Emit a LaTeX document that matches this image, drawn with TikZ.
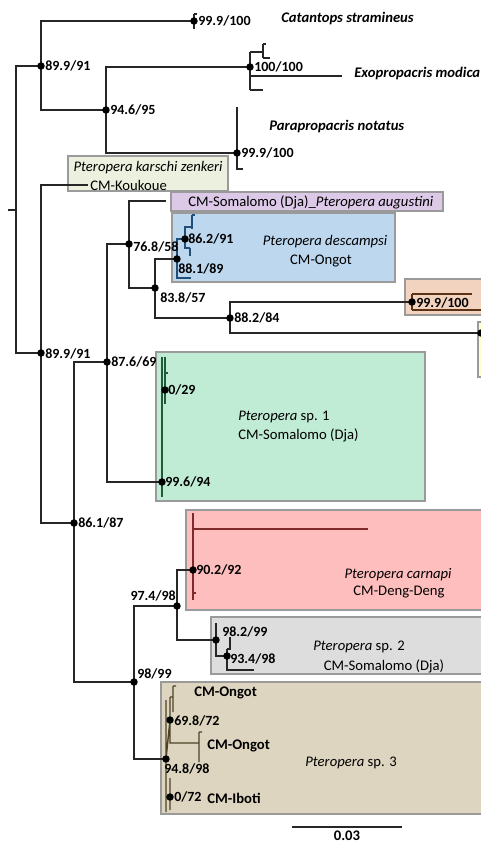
\documentclass[tikz,border=0pt]{standalone}
\usepackage{fontspec}
\setmainfont{Carlito}
\definecolor{kouk}{HTML}{EBF1DE}
\definecolor{purp}{HTML}{DCC9E8}
\definecolor{blu}{HTML}{BDD7EE}
\definecolor{oran}{HTML}{F2D3BF}
\definecolor{yell}{HTML}{FFFFCC}
\definecolor{mint}{HTML}{C0EBD4}
\definecolor{pink}{HTML}{FFBEBE}
\definecolor{gry}{HTML}{DDDDDD}
\definecolor{tan}{HTML}{DDD5BF}
\definecolor{bord}{HTML}{9A9A9A}
\definecolor{dgreen}{HTML}{1D5C36}
\definecolor{dred}{HTML}{7F2A2A}
\definecolor{dblue}{HTML}{1F4E79}
\definecolor{dolive}{HTML}{4D4326}
\definecolor{dbrown}{HTML}{5C3317}
\begin{document}
\begin{tikzpicture}[x=0.75pt,y=-0.75pt,
  br/.style={line width=1.05pt,draw=black!85},
  tbox/.style={draw=bord,line width=0.8pt},
  supp/.style={anchor=west,inner sep=0pt,font=\fontsize{10.5}{12}\selectfont\bfseries},
  taxon/.style={inner sep=0pt,font=\fontsize{11}{13}\selectfont},
  btaxon/.style={taxon,anchor=west,font=\fontsize{11}{13}\selectfont\bfseries\itshape},
  dot/.style={fill=black}]
\useasboundingbox (0,0) rectangle (481,846);
% ---------- boxes
\path[tbox,fill=kouk] (68,156) rectangle (228,191);
\path[tbox,fill=purp] (171,192) rectangle (443,211);
\path[tbox,fill=blu] (172,213) rectangle (395,282);
\path[tbox,fill=oran] (405,279) rectangle (495,315);
\path[tbox,fill=yell] (478,322) rectangle (495,377);
\path[tbox,fill=mint] (156,352) rectangle (425,501);
\path[tbox,fill=pink] (186,510) rectangle (495,610);
\path[tbox,fill=gry] (211,617) rectangle (495,674);
\path[tbox,fill=tan] (161,682) rectangle (495,814);
% ---------- tree coordinates
\coordinate (r0) at (8,210);
\coordinate (rt) at (16,210);
\coordinate (A) at (41,66);
\coordinate (C) at (41,353);
\coordinate (Cat) at (194,21);
\coordinate (D) at (106,110);
\coordinate (E) at (250,67);
\coordinate (F) at (237,153);
\coordinate (Kl) at (88,185);
\coordinate (H) at (74,523);
\coordinate (I) at (107,362);
\coordinate (J) at (134,682);
\coordinate (L) at (129,244);
\coordinate (M) at (162,482);
\coordinate (M2) at (165,390);
\coordinate (aug) at (166,201);
\coordinate (N) at (155,288);
\coordinate (O) at (177,259);
\coordinate (P) at (230,318);
\coordinate (Q) at (185,239);
\coordinate (Ol) at (191,278);
\coordinate (Q1) at (192,227);
\coordinate (Q2) at (190,248);
\coordinate (R) at (412,302);
\coordinate (Yl) at (481,333);
\coordinate (S) at (177,606);
\coordinate (T) at (166,759);
\coordinate (U) at (193,570);
\coordinate (V) at (216,640);
\coordinate (W) at (227,656);
\coordinate (X) at (170,720);
\coordinate (Y) at (170,797);
% ---------- black backbone
\draw[br] (r0) -- (rt);
\draw[br] (A) -| (rt) |- (C);
\draw[br] (Cat) -| (A) |- (D);
\draw[br] (E) -| (D) |- (F);
\draw[br] (Kl) -| (C) |- (H);
\draw[br] (I) -| (H) |- (J);
\draw[br] (L) -| (I) |- (M);
\draw[br] (aug) -| (L) |- (N);
\draw[br] (O) -| (N) |- (P);
\draw[br] (R) -| (P) |- (Yl);
\draw[br] (U) -| (S) |- (V);
\draw[br] (S) -| (J) |- (T);
% outgroup leaves
\draw[br] (194,14) -- (194,29) (194,14) -- (197,14);
\draw[br] (250,52) -- (250,90) (250,52) -- (263,52) (263,44) -- (263,58)
  (263,44) -- (266,44) (263,58) -- (270,58) (250,76) -- (342,76) (250,90) -- (263,90);
\draw[br] (237,107) -- (237,169) -- (243,169);
% blue clade
\draw[br,draw=dblue] (Q) -| (O) |- (Ol);
\draw[br,draw=dblue] (Q1) -| (Q) |- (Q2);
\draw[br,draw=dblue] (192,215) -- (192,229) (192,215) -- (195,215) (190,248) -- (190,256);
% orange clade
\draw[br,draw=dbrown] (412,294) -- (412,310) (412,294) -- (472,294) (412,310) -- (490,310);
% green clade
\draw[br,draw=dgreen] (162,357) -- (162,497) (165,357) -- (165,404) (165,373) -- (168,373);
% red clade
\draw[br,draw=dred] (193,513) -- (193,600) (193,529) -- (368,529) (193,593) -- (196,593);
% grey clade
\draw[br] (216,623) -- (216,656) -- (W);
\draw[br] (227,649) -- (227,670) -- (254,670) (227,649) -- (230,649) -- (230,637);
% tan clade
\draw[br,draw=dolive] (166,700) -- (166,812) (T) -- (X) (170,697) -- (170,743) -- (199,743)
  (199,732) -- (199,762) (199,732) -- (202,732) (173,686) -- (173,712) (173,686) -- (176,686)
  (170,697) -- (173,697) (170,778) -- (170,810) (166,797) -- (Y);
% ---------- dots
\foreach \p in {A,C,Cat,D,E,F,H,I,J,L,M,M2,N,O,P,Q,R,Yl,S,T,U,V,W,X,Y}
  \fill[dot] (\p) circle[radius=2.8pt];
% ---------- support values
\node[supp] (sA) at (45,66) {89.9/91};
\node[supp] (sC) at (45,354) {89.9/91};
\node[supp] (sCat) at (198,21) {99.9/100};
\node[supp] (sD) at (110,110) {94.6/95};
\node[supp] (sE) at (254,67) {100/100};
\node[supp] (sF) at (241,153) {99.9/100};
\node[supp] (sH) at (78,523) {86.1/87};
\node[supp] (sI) at (111,362) {87.6/69};
\node[supp] (sL) at (133,247) {76.8/58};
\node[supp,anchor=north west] (sN) at (160,292) {83.8/57};
\node[supp] (sO) at (178,269) {88.1/89};
\node[supp] (sQ) at (188,239) {86.2/91};
\node[supp] (sP) at (234,318) {88.2/84};
\node[supp] (sR) at (416,303) {99.9/100};
\node[supp] (sM2) at (168,390) {0/29};
\node[supp] (sM) at (165,482) {99.6/94};
\node[supp,anchor=south west] (sJ) at (137,679) {98/99};
\node[supp,anchor=south east] (sS) at (176,601) {97.4/98};
\node[supp] (sU) at (196,570) {90.2/92};
\node[supp] (sV) at (222,632) {98.2/99};
\node[supp] (sW) at (230,659) {93.4/98};
\node[supp] (sX) at (174,721) {69.8/72};
\node[supp,anchor=north west] (sT) at (164,763) {94.8/98};
\node[supp] (sY) at (174,797) {0/72};
% ---------- taxon labels
\node[btaxon] (tCat) at (281,19) {Catantops stramineus};
\node[btaxon] (tExo) at (354,74) {Exopropacris modica};
\node[btaxon] (tPar) at (269,127) {Parapropacris notatus};
\node[taxon] (tK1) at (148,168) {\itshape Pteropera karschi zenkeri};
\node[taxon,anchor=west] (tK2) at (90,185) {CM-Koukoue};
\node[taxon,anchor=west] (tAug) at (188,202) {CM-Somalomo (Dja)\_\textit{Pteropera augustini}};
\node[taxon] (tDes1) at (325,242) {\itshape Pteropera descampsi};
\node[taxon] (tDes2) at (321,261) {CM-Ongot};
\node[taxon,anchor=west] (tSp11) at (238,417) {\textit{Pteropera} sp. 1};
\node[taxon,anchor=west] (tSp12) at (238,435) {CM-Somalomo (Dja)};
\node[taxon] (tCar1) at (398,575) {\itshape Pteropera carnapi};
\node[taxon] (tCar2) at (399,592) {CM-Deng-Deng};
\node[taxon] (tSp21) at (359,647) {\textit{Pteropera} sp. 2};
\node[taxon] (tSp22) at (384,666) {CM-Somalomo (Dja)};
\node[taxon] (tSp3) at (351,763) {\textit{Pteropera} sp. 3};
\node[taxon,anchor=west,font=\fontsize{11}{13}\selectfont\bfseries] (tO1) at (194,693) {CM-Ongot};
\node[taxon,anchor=west,font=\fontsize{11}{13}\selectfont\bfseries] (tO2) at (207,746) {CM-Ongot};
\node[taxon,anchor=west,font=\fontsize{11}{13}\selectfont\bfseries] (tIb) at (207,798) {CM-Iboti};
% ---------- scale bar
\coordinate (sb1) at (292,827);
\coordinate (sb2) at (402,827);
\draw[br] (sb1) -- (sb2);
\node[taxon,font=\fontsize{11}{13}\selectfont\bfseries] (sbl) at (347,836) {0.03};
\end{tikzpicture}
\end{document}
